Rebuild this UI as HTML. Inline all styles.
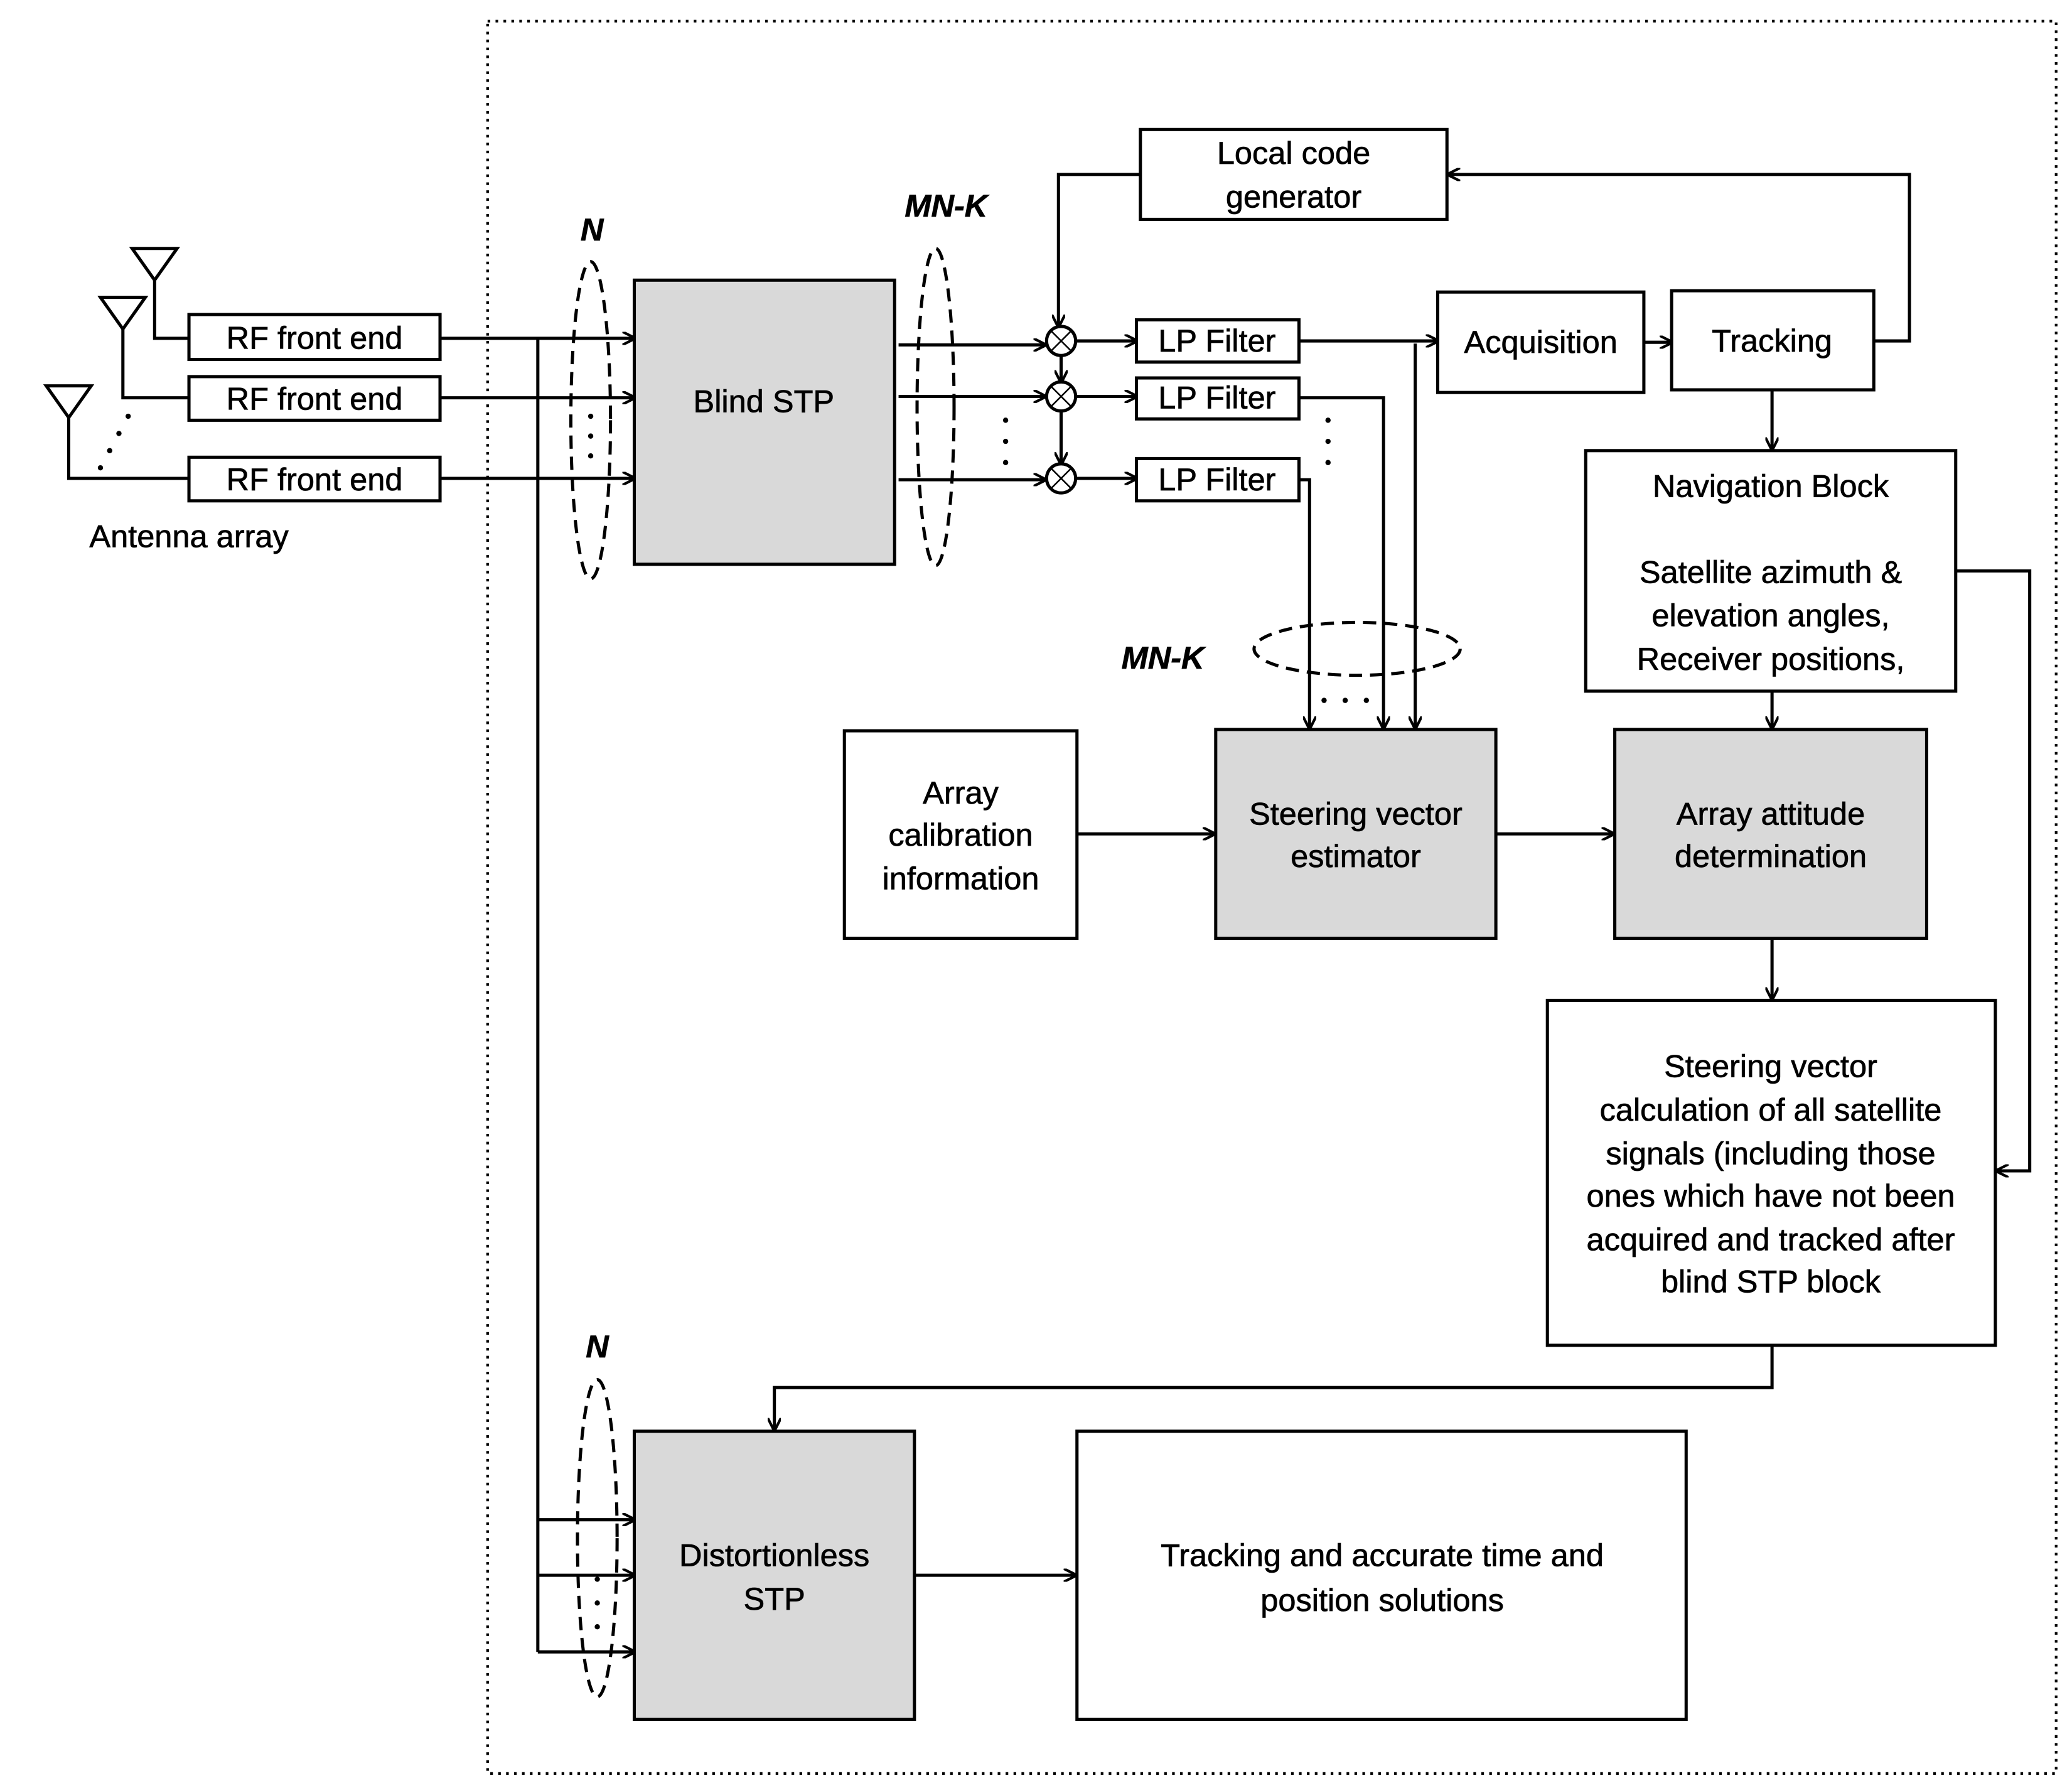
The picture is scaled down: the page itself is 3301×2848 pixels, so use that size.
<!DOCTYPE html>
<html><head><style>html,body{margin:0;padding:0;background:#fff}svg{display:block}</style></head>
<body>
<svg width="3301" height="2848" viewBox="0 0 1568 1353" preserveAspectRatio="none" xmlns="http://www.w3.org/2000/svg" font-family="Liberation Sans, sans-serif" font-size="24">
<defs><marker id="a" markerWidth="10" markerHeight="10" refX="9" refY="5" orient="auto" markerUnits="userSpaceOnUse"><path d="M0,0 L10,5 L0,10" fill="none" stroke="#000" stroke-width="2"/></marker></defs>
<rect x="369" y="16" width="1187" height="1326" fill="none" stroke="#000" stroke-width="2" stroke-dasharray="2,4"/>
<g stroke="#000" stroke-width="2.4" fill="none">
<path d="M100,188 L134,188 L117,212 Z M117,212 V256 H143"/>
<path d="M76,225 L110,225 L93,249 Z M93,249 V301 H143"/>
<path d="M35,292 L69,292 L52,316 Z M52,316 V362 H143"/>
<path d="M333,256 H480" marker-end="url(#a)"/>
<path d="M333,301 H480" marker-end="url(#a)"/>
<path d="M333,362 H480" marker-end="url(#a)"/>
<path d="M407,256 V1250"/>
<path d="M407,1150 H480" marker-end="url(#a)"/>
<path d="M407,1192 H480" marker-end="url(#a)"/>
<path d="M407,1250 H480" marker-end="url(#a)"/>
<path d="M680,261 H791" marker-end="url(#a)"/>
<path d="M680,300 H791" marker-end="url(#a)"/>
<path d="M680,363 H791" marker-end="url(#a)"/>
<circle cx="803" cy="258" r="11"/><circle cx="803" cy="300" r="11"/><circle cx="803" cy="362" r="11"/>
<path d="M795,250 L811,266 M811,250 L795,266 M795,292 L811,308 M811,292 L795,308 M795,354 L811,370 M811,354 L795,370" stroke-width="1.2"/>
<path d="M863,132 H801 V247" marker-end="url(#a)"/>
<path d="M803,269 V289" marker-end="url(#a)"/>
<path d="M803,311 V351" marker-end="url(#a)"/>
<path d="M814,258 H860" marker-end="url(#a)"/>
<path d="M814,300 H860" marker-end="url(#a)"/>
<path d="M814,362 H860" marker-end="url(#a)"/>
<path d="M983,258 H1088" marker-end="url(#a)"/>
<path d="M1071,260 V551" marker-end="url(#a)"/>
<path d="M983,301 H1047 V551" marker-end="url(#a)"/>
<path d="M983,363 H991 V551" marker-end="url(#a)"/>
<path d="M1244,259 H1265" marker-end="url(#a)"/>
<path d="M1418,258 H1445 V132 H1096" marker-end="url(#a)"/>
<path d="M1341,295 V340" marker-end="url(#a)"/>
<path d="M1341,523 V551" marker-end="url(#a)"/>
<path d="M1480,432 H1536 V886 H1511" marker-end="url(#a)"/>
<path d="M815,631 H919" marker-end="url(#a)"/>
<path d="M1132,631 H1221" marker-end="url(#a)"/>
<path d="M1341,710 V756" marker-end="url(#a)"/>
<path d="M1341,1018 V1050 H586 V1082" marker-end="url(#a)"/>
<path d="M692,1192 H814" marker-end="url(#a)"/>
<g stroke-dasharray="10,6">
<ellipse cx="447" cy="318" rx="15" ry="120"/>
<ellipse cx="708" cy="308" rx="14" ry="120"/>
<ellipse cx="1027" cy="491" rx="78" ry="20"/>
<ellipse cx="452" cy="1164" rx="15" ry="120"/>
</g>
<rect x="143" y="238" width="190" height="34" fill="#fff"/>
<rect x="143" y="285" width="190" height="33" fill="#fff"/>
<rect x="143" y="346" width="190" height="33" fill="#fff"/>
<rect x="480" y="212" width="197" height="215" fill="#d9d9d9"/>
<rect x="863" y="98" width="232" height="68" fill="#fff"/>
<rect x="860" y="242" width="123" height="32" fill="#fff"/>
<rect x="860" y="286" width="123" height="31" fill="#fff"/>
<rect x="860" y="347" width="123" height="32" fill="#fff"/>
<rect x="1088" y="221" width="156" height="76" fill="#fff"/>
<rect x="1265" y="220" width="153" height="75" fill="#fff"/>
<rect x="1200" y="341" width="280" height="182" fill="#fff"/>
<rect x="639" y="553" width="176" height="157" fill="#fff"/>
<rect x="920" y="552" width="212" height="158" fill="#d9d9d9"/>
<rect x="1222" y="552" width="236" height="158" fill="#d9d9d9"/>
<rect x="1171" y="757" width="339" height="261" fill="#fff"/>
<rect x="480" y="1083" width="212" height="218" fill="#d9d9d9"/>
<rect x="815" y="1083" width="461" height="218" fill="#fff"/>
</g>
<g fill="#000">
<circle cx="76" cy="354" r="2"/><circle cx="83" cy="341" r="2"/><circle cx="90" cy="328" r="2"/><circle cx="97" cy="315" r="2"/>
<circle cx="447" cy="315" r="2"/><circle cx="447" cy="330" r="2"/><circle cx="447" cy="345" r="2"/>
<circle cx="761" cy="318" r="2"/><circle cx="761" cy="334" r="2"/><circle cx="761" cy="350" r="2"/>
<circle cx="1005" cy="318" r="2"/><circle cx="1005" cy="334" r="2"/><circle cx="1005" cy="350" r="2"/>
<circle cx="1002" cy="530" r="2"/><circle cx="1018" cy="530" r="2"/><circle cx="1034" cy="530" r="2"/>
<circle cx="452" cy="1195" r="2"/><circle cx="452" cy="1213" r="2"/><circle cx="452" cy="1231" r="2"/>
</g>
<g text-anchor="middle" fill="#000" stroke="#000" stroke-width="0.35">
<text x="238" y="264">RF front end</text>
<text x="238" y="310">RF front end</text>
<text x="238" y="371">RF front end</text>
<text x="143" y="414">Antenna array</text>
<text x="578" y="312">Blind STP</text>
<text x="979" y="124">Local code</text><text x="979" y="157">generator</text>
<text x="921" y="266">LP Filter</text><text x="921" y="309">LP Filter</text><text x="921" y="371">LP Filter</text>
<text x="1166" y="267">Acquisition</text>
<text x="1341" y="266">Tracking</text>
<text x="1340" y="376">Navigation Block</text>
<text x="1340" y="441">Satellite azimuth &amp;</text>
<text x="1340" y="474">elevation angles,</text>
<text x="1340" y="507">Receiver positions,</text>
<text x="727" y="608">Array</text><text x="727" y="640">calibration</text><text x="727" y="673">information</text>
<text x="1026" y="624">Steering vector</text><text x="1026" y="656">estimator</text>
<text x="1340" y="624">Array attitude</text><text x="1340" y="656">determination</text>
<text x="1340" y="815">Steering vector</text>
<text x="1340" y="848">calculation of all satellite</text>
<text x="1340" y="881">signals (including those</text>
<text x="1340" y="913">ones which have not been</text>
<text x="1340" y="946">acquired and tracked after</text>
<text x="1340" y="978">blind STP block</text>
<text x="586" y="1185">Distortionless</text><text x="586" y="1218">STP</text>
<text x="1046" y="1185">Tracking and accurate time and</text>
<text x="1046" y="1219">position solutions</text>
<g font-style="italic" font-weight="bold">
<text x="448" y="182">N</text>
<text x="716" y="164">MN-K</text>
<text x="880" y="506">MN-K</text>
<text x="452" y="1027">N</text>
</g>
</g>
</svg>
</body></html>
